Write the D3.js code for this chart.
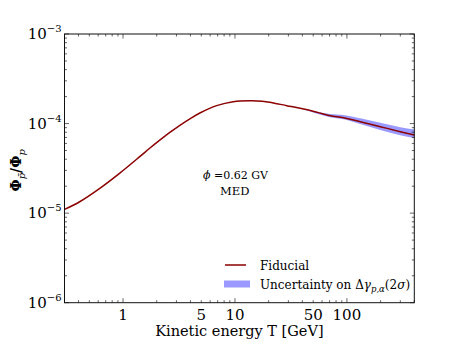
<!DOCTYPE html>
<html><head><meta charset="utf-8">
<script src="https://cdn.jsdelivr.net/npm/d3@7"></script>
<style>body{margin:0;background:#fff;}</style>
</head><body>
<script>
// Data
const energy   = [0.3, 0.41, 0.62, 0.93, 1.41, 1.73, 2.13, 2.62, 3.22, 3.96, 4.86, 6.86, 9.66, 13.6, 17.5, 22, 29, 38.2, 53.9, 70.8, 93.3, 131.6, 198.7, 300, 400];
const fiducial = [1.10e-5, 1.34e-5, 1.89e-5, 2.78e-5, 4.27e-5, 5.30e-5, 6.53e-5, 7.96e-5, 9.57e-5, 1.131e-4, 1.313e-4, 1.585e-4, 1.755e-4, 1.80e-4, 1.78e-4, 1.70e-4, 1.585e-4, 1.48e-4, 1.34e-4, 1.225e-4, 1.16e-4, 1.05e-4, 9.23e-5, 8.12e-5, 7.45e-5];
const bandEnergy = [40, 70.8, 93.3, 131.6, 198.7, 300, 400];
const bandUpper  = [1.45e-4, 1.28e-4, 1.247e-4, 1.146e-4, 1.023e-4, 9.1e-5, 8.6e-5];
const bandLower  = [1.45e-4, 1.175e-4, 1.117e-4, 9.9e-5, 8.49e-5, 7.4e-5, 6.9e-5];
const xTickLabels = [1, 5, 10, 50, 100];
const yTickExps = [-6, -5, -4, -3];

const W = 461, H = 348;
const L = 64.5, R = 414.3, T = 34, B = 302.7;
const FONT = "DejaVu Serif";
const svg = d3.select("body").append("svg").attr("width", W).attr("height", H)
  .style("font-family", FONT);
const x = d3.scaleLog().domain([0.3, 400]).range([L, R]);
const y = d3.scaleLog().domain([1e-6, 1e-3]).range([B, T]);

// band
const bandData = bandEnergy.map((e, i) => ({e, lo: bandLower[i], hi: bandUpper[i]}));
svg.append("path").datum(bandData)
  .attr("d", d3.area().x(d => x(d.e)).y0(d => y(d.lo)).y1(d => y(d.hi)).curve(d3.curveMonotoneX))
  .attr("fill", "#0000ff").attr("fill-opacity", 0.4).attr("stroke", "none");

// fiducial line
const lineData = energy.map((e, i) => ({e, v: fiducial[i]}));
svg.append("path").datum(lineData)
  .attr("d", d3.line().x(d => x(d.e)).y(d => y(d.v)).curve(d3.curveCatmullRom.alpha(0.5)))
  .attr("fill", "none").attr("stroke", "#8b0000").attr("stroke-width", 1.5);

// ticks
const xMinor = [];
[0.1, 1, 10, 100].forEach(d => { for (let k = 1; k <= 9; k++) { const v = d * k; if (v >= 0.3 && v <= 400) xMinor.push(v); } });
const xMajor = [1, 10, 100];
const yAll = [];
[1e-6, 1e-5, 1e-4].forEach(d => { for (let k = 1; k <= 9; k++) yAll.push(d * k); });
yAll.push(1e-3);
const isYMajor = v => yTickExps.some(e => Math.abs(Math.log10(v) - e) < 1e-6);
const isXMajor = v => xMajor.some(m => Math.abs(v - m) < 1e-9);

const tickCol = "#222";
const gx = svg.append("g").attr("transform", `translate(0,${B})`);
gx.call(d3.axisBottom(x).tickValues(xMinor).tickSize(0).tickFormat(""));
gx.select(".domain").remove();
[[B, -1], [T, 1]].forEach(([yy, dir]) => {
  svg.append("g").selectAll("line").data(xMinor).join("line")
    .attr("x1", d => x(d)).attr("x2", d => x(d))
    .attr("y1", yy).attr("y2", d => yy + dir * (isXMajor(d) ? 4.5 : 2.5))
    .attr("stroke", tickCol).attr("stroke-width", 0.7);
});
[[L, 1], [R, -1]].forEach(([xx, dir]) => {
  svg.append("g").selectAll("line").data(yAll).join("line")
    .attr("y1", d => y(d)).attr("y2", d => y(d))
    .attr("x1", xx).attr("x2", d => xx + dir * (isYMajor(d) ? 4.5 : 2.5))
    .attr("stroke", tickCol).attr("stroke-width", 0.7);
});

// frame
svg.append("rect").attr("x", L).attr("y", T).attr("width", R - L).attr("height", B - T)
  .attr("fill", "none").attr("stroke", "#111").attr("stroke-width", 1);

// x tick labels
svg.append("g").selectAll("text").data(xTickLabels).join("text")
  .attr("x", d => x(d)).attr("y", B + 17).attr("text-anchor", "middle")
  .attr("font-size", 15).attr("fill", "#000").text(d => d);

// y tick labels
const yl = svg.append("g").selectAll("text").data(yTickExps).join("text")
  .attr("x", L - 3).attr("y", d => y(Math.pow(10, d)) + 5).attr("text-anchor", "end")
  .attr("font-size", 15).attr("fill", "#000");
yl.append("tspan").text("10");
yl.append("tspan").attr("dy", -7).attr("font-size", 10).text(d => "\u2212" + Math.abs(d));

// x label
svg.append("text").attr("x", (L + R) / 2).attr("y", 336).attr("text-anchor", "middle")
  .attr("font-size", 14.5).text("Kinetic energy T [GeV]");

// y label
const ylab = svg.append("text").attr("transform", `translate(21,${(T + B) / 2 + 2}) rotate(-90)`)
  .attr("text-anchor", "middle").attr("font-size", 14).attr("font-weight", "bold");
ylab.append("tspan").text("\u03A6");
ylab.append("tspan").attr("dy", 4).attr("font-size", 10).attr("font-style", "italic").attr("font-weight", "normal").text("p\u0304");
ylab.append("tspan").attr("dy", -4).text("/\u03A6");
ylab.append("tspan").attr("dy", 4).attr("font-size", 10).attr("font-style", "italic").attr("font-weight", "normal").text("p");

// annotation
const ann = svg.append("text").attr("x", 203).attr("y", 179).attr("font-size", 11);
ann.append("tspan").attr("font-style", "italic").text("\u03D5");
ann.append("tspan").text(" =0.62 GV");
svg.append("text").attr("x", 220).attr("y", 195).attr("font-size", 11.5).text("MED");

// legend
svg.append("line").attr("x1", 225).attr("x2", 246).attr("y1", 265).attr("y2", 265)
  .attr("stroke", "#8b0000").attr("stroke-width", 1.5);
svg.append("text").attr("x", 260).attr("y", 269.5).attr("font-size", 12).text("Fiducial");
svg.append("rect").attr("x", 224).attr("y", 280.5).attr("width", 26).attr("height", 7)
  .attr("fill", "#0000ff").attr("fill-opacity", 0.4);
const lt = svg.append("text").attr("x", 260).attr("y", 289).attr("font-size", 12);
lt.append("tspan").text("Uncertainty on \u0394");
lt.append("tspan").attr("font-style", "italic").text("\u03B3");
lt.append("tspan").attr("dy", 3).attr("font-size", 8.5).attr("font-style", "italic").text("p,\u03B1");
lt.append("tspan").attr("dy", -3).text("(2");
lt.append("tspan").attr("font-style", "italic").text("\u03C3");
lt.append("tspan").text(")");
</script>
</body></html>
